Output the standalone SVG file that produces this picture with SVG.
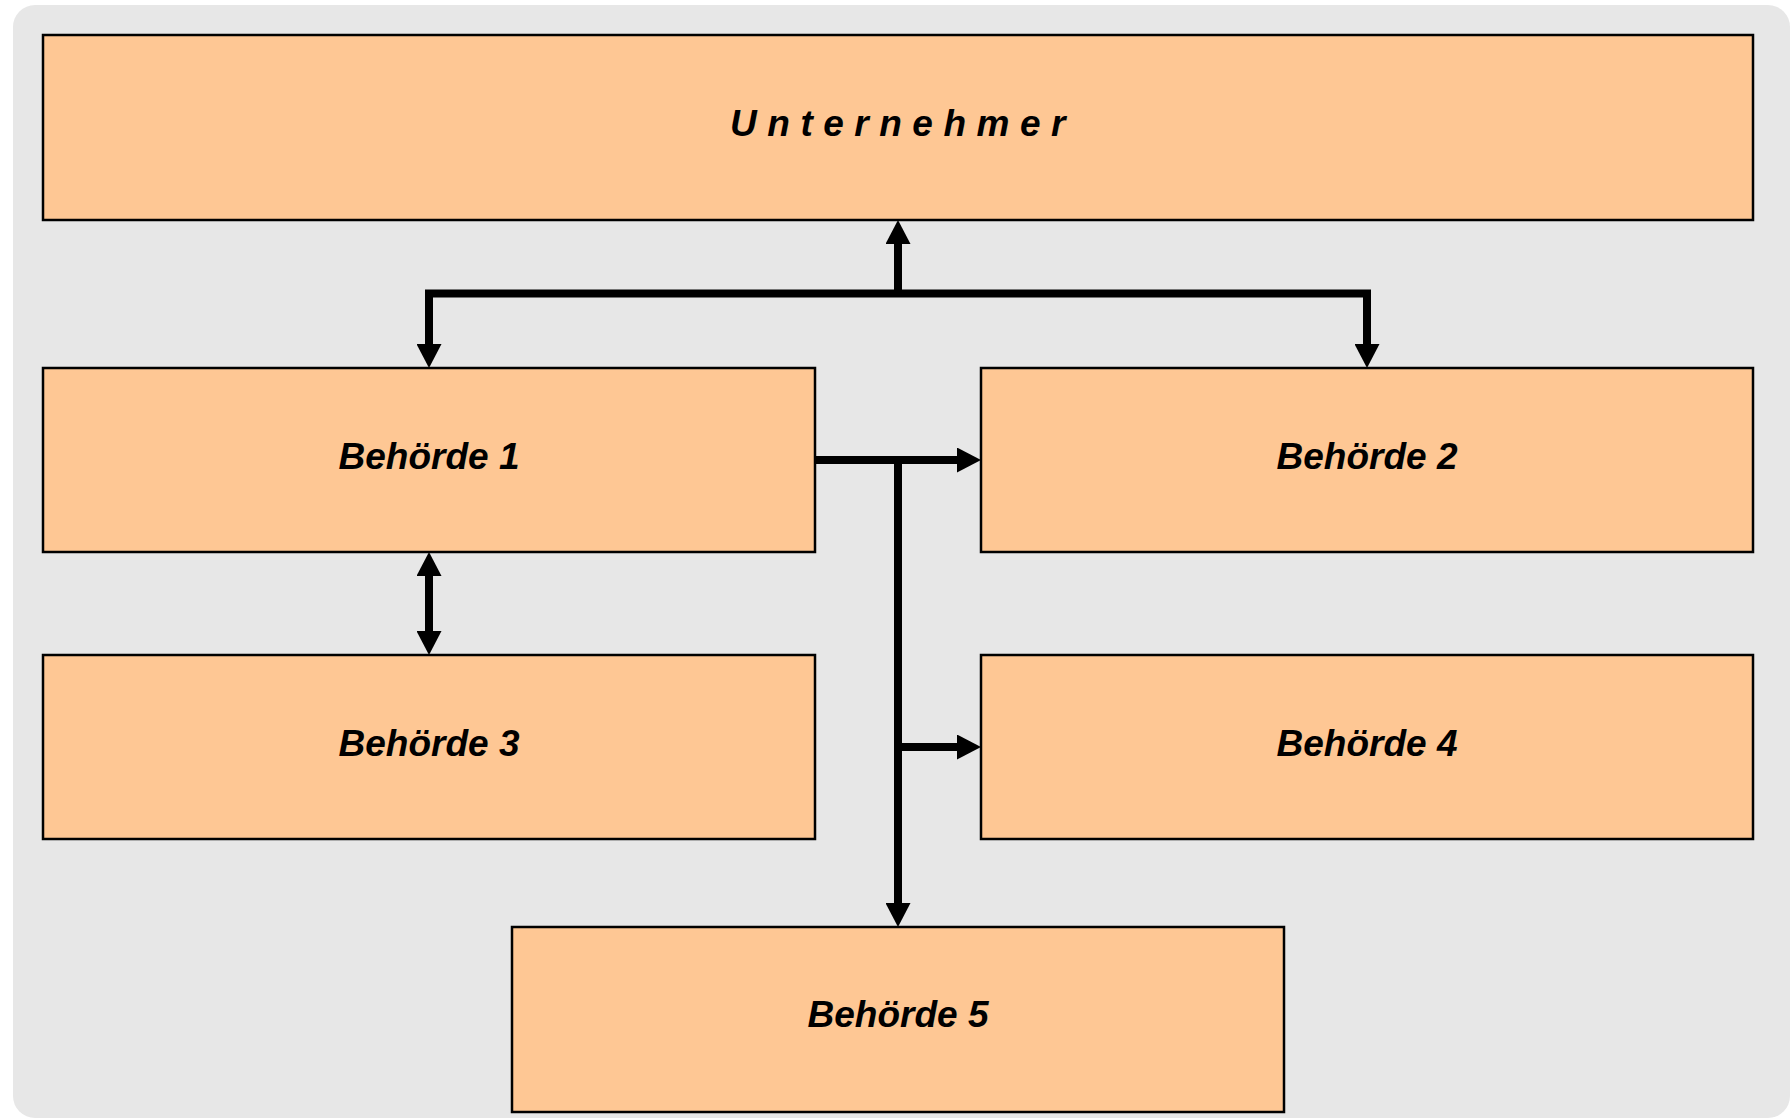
<svg xmlns="http://www.w3.org/2000/svg" width="1790" height="1119" viewBox="0 0 1790 1119">
  <style>
    .box { fill: #FEC794; stroke: #000; stroke-width: 2.5; }
    .lbl { font-family: "Liberation Sans", Arial, sans-serif; font-weight: bold; font-style: italic; font-size: 37px; fill: #000; text-anchor: middle; }
    .conn { fill: none; stroke: #000; stroke-width: 8; stroke-linejoin: miter; }
  </style>
  <defs>
    <marker id="arr" markerUnits="userSpaceOnUse" markerWidth="25" markerHeight="25" refX="3" refY="12.5" orient="auto-start-reverse" viewBox="0 0 25 25">
      <path d="M0,0 L24,12.5 L0,25 Z" fill="#000"/>
    </marker>
  </defs>
  <rect x="13" y="5" width="1777" height="1113" rx="22" ry="22" fill="#E7E7E7"/>

  <g id="connectors">
    <path class="conn" d="M429,347 V293.5 H1367 V347" marker-start="url(#arr)" marker-end="url(#arr)"/>
    <path class="conn" d="M898,293.5 V241" marker-end="url(#arr)"/>
    <path class="conn" d="M815,460 H960" marker-end="url(#arr)"/>
    <path class="conn" d="M898,456 V906" marker-end="url(#arr)"/>
    <path class="conn" d="M898,747 H960" marker-end="url(#arr)"/>
    <path class="conn" d="M429,573 V634" marker-start="url(#arr)" marker-end="url(#arr)"/>
  </g>

  <g id="unternehmer">
    <rect class="box" x="43" y="35" width="1710" height="185"/>
    <text class="lbl" x="903" y="136" style="letter-spacing:10.5px">Unternehmer</text>
  </g>
  <g id="behoerde1">
    <rect class="box" x="43" y="368" width="772" height="184"/>
    <text class="lbl" x="429" y="469">Behörde 1</text>
  </g>
  <g id="behoerde2">
    <rect class="box" x="981" y="368" width="772" height="184"/>
    <text class="lbl" x="1367" y="469">Behörde 2</text>
  </g>
  <g id="behoerde3">
    <rect class="box" x="43" y="655" width="772" height="184"/>
    <text class="lbl" x="429" y="756">Behörde 3</text>
  </g>
  <g id="behoerde4">
    <rect class="box" x="981" y="655" width="772" height="184"/>
    <text class="lbl" x="1367" y="756">Behörde 4</text>
  </g>
  <g id="behoerde5">
    <rect class="box" x="512" y="927" width="772" height="185"/>
    <text class="lbl" x="898" y="1027">Behörde 5</text>
  </g>
</svg>
